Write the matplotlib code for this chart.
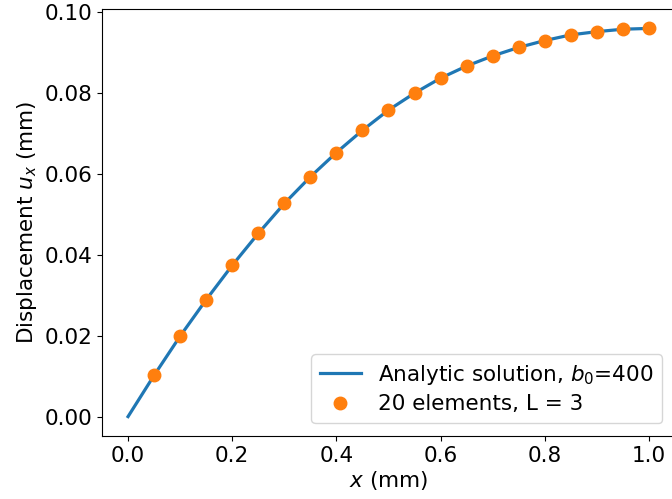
import matplotlib
matplotlib.use("Agg")
import matplotlib.pyplot as plt

# analytic curve samples and FE nodal results
x_analytic = [0.0, 0.05, 0.1, 0.15, 0.2, 0.25, 0.3, 0.35, 0.4, 0.45, 0.5,
              0.55, 0.6, 0.65, 0.7, 0.75, 0.8, 0.85, 0.9, 0.95, 1.0]
u_analytic = [0.0, 0.0102, 0.0199, 0.0289, 0.0374, 0.0453, 0.0527, 0.0593,
              0.0653, 0.0708, 0.0758, 0.0800, 0.0837, 0.0867, 0.0892, 0.0913,
              0.0930, 0.0944, 0.0952, 0.0958, 0.0960]

x_fe = [0.05, 0.1, 0.15, 0.2, 0.25, 0.3, 0.35, 0.4, 0.45, 0.5,
        0.55, 0.6, 0.65, 0.7, 0.75, 0.8, 0.85, 0.9, 0.95, 1.0]
u_fe = [0.0102, 0.0199, 0.0289, 0.0374, 0.0453, 0.0527, 0.0593, 0.0653,
        0.0708, 0.0758, 0.0800, 0.0837, 0.0867, 0.0892, 0.0913, 0.0930,
        0.0944, 0.0952, 0.0958, 0.0960]

plt.rcParams['font.size'] = 15.5

fig = plt.figure(figsize=(6.72, 4.99), dpi=100)
ax = fig.add_axes([102 / 672, 63 / 499, 573 / 672, 427 / 499])

ax.plot(x_analytic, u_analytic, color='#1f77b4', linewidth=2.3,
        label='Analytic solution, $b_0$=400')
ax.plot(x_fe, u_fe, 'o', color='#ff7f0e', markersize=9,
        label='20 elements, L = 3')

ax.set_xlabel('$x$ (mm)', labelpad=2)
ax.set_ylabel('Displacement $u_x$ (mm)')
ax.set_xticks([0.0, 0.2, 0.4, 0.6, 0.8, 1.0])
ax.set_yticks([0.0, 0.02, 0.04, 0.06, 0.08, 0.10])
ax.legend(loc='lower right', handlelength=1.9, labelspacing=0.35,
          borderaxespad=0.6)

fig.savefig('out.png', dpi=100)
